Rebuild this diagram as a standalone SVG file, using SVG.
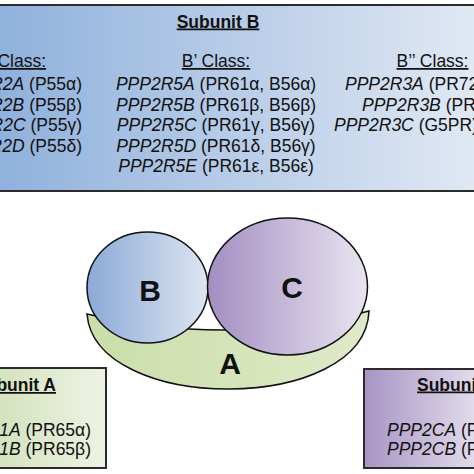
<svg xmlns="http://www.w3.org/2000/svg" width="474" height="474" viewBox="0 0 474 474">
<defs>
<linearGradient id="gTop" x1="0" y1="0" x2="1" y2="0">
<stop offset="0" stop-color="#8eb0dc"/><stop offset="1" stop-color="#e2e9f4"/>
</linearGradient>
<linearGradient id="gA" x1="0" y1="0" x2="1" y2="0">
<stop offset="0" stop-color="#d2e1bb"/><stop offset="1" stop-color="#eef3e4"/>
</linearGradient>
<linearGradient id="gC" x1="0" y1="0" x2="1" y2="0">
<stop offset="0" stop-color="#a794c5"/><stop offset="1" stop-color="#e6e1ee"/>
</linearGradient>
<linearGradient id="gBc" x1="0" y1="0" x2="1" y2="0">
<stop offset="0" stop-color="#8caad6"/><stop offset="1" stop-color="#dde6f2"/>
</linearGradient>
<linearGradient id="gCc" x1="0" y1="0" x2="1" y2="0">
<stop offset="0" stop-color="#a38ec1"/><stop offset="1" stop-color="#e9e5f1"/>
</linearGradient>
<linearGradient id="gAc" x1="0" y1="0" x2="1" y2="0">
<stop offset="0" stop-color="#cbddaa"/><stop offset="1" stop-color="#dfeac8"/>
</linearGradient>
</defs>
<style>
text{font-family:"Liberation Sans",Arial,sans-serif;fill:#111;}
.t{font-size:17.5px;}
.h{font-size:17.5px;font-weight:bold;text-decoration:underline;}
.u{text-decoration:underline;}
.i{font-style:italic;}
.box{stroke:#2b2b2b;stroke-width:2;}
.sh{stroke:#111;stroke-width:1.5;}
.big{font-size:30px;font-weight:bold;text-anchor:middle;}
</style>
<rect width="474" height="474" fill="#ffffff"/>

<g id="subunitB">
<rect class="box" x="-10" y="5" width="494" height="186" fill="url(#gTop)"/>
<text class="h" x="218" y="27.5" text-anchor="middle">Subunit B</text>
<text class="t u" x="46" y="67" text-anchor="end">B Class:</text>
<text class="t" x="82" y="90" text-anchor="end"><tspan class="i">PPP2R2A</tspan> (P55α)</text>
<text class="t" x="82" y="110.5" text-anchor="end"><tspan class="i">PPP2R2B</tspan> (P55β)</text>
<text class="t" x="82" y="131" text-anchor="end"><tspan class="i">PPP2R2C</tspan> (P55γ)</text>
<text class="t" x="82" y="151.5" text-anchor="end"><tspan class="i">PPP2R2D</tspan> (P55δ)</text>
<text class="t u" x="216" y="67" text-anchor="middle">B’ Class:</text>
<text class="t" x="216" y="90" text-anchor="middle"><tspan class="i">PPP2R5A</tspan> (PR61α, B56α)</text>
<text class="t" x="216" y="110.5" text-anchor="middle"><tspan class="i">PPP2R5B</tspan> (PR61β, B56β)</text>
<text class="t" x="216" y="131" text-anchor="middle"><tspan class="i">PPP2R5C</tspan> (PR61γ, B56γ)</text>
<text class="t" x="216" y="151.5" text-anchor="middle"><tspan class="i">PPP2R5D</tspan> (PR61δ, B56γ)</text>
<text class="t" x="216" y="172" text-anchor="middle"><tspan class="i">PPP2R5E</tspan> (PR61ε, B56ε)</text>
<text class="t u" x="432.5" y="67" text-anchor="middle">B’’ Class:</text>
<text class="t" x="345" y="90"><tspan class="i">PPP2R3A</tspan> (PR72, PR130)</text>
<text class="t" x="362" y="110.5"><tspan class="i">PPP2R3B</tspan> (PR70, PR48)</text>
<text class="t" x="334" y="131"><tspan class="i">PPP2R3C</tspan> (G5PR)</text>
</g>

<g id="subunitA">
<rect class="box" x="-10" y="368" width="116" height="100" fill="url(#gA)"/>
<text class="h" x="56" y="391" text-anchor="end">Subunit A</text>
<text class="t" x="91" y="435.5" text-anchor="end"><tspan class="i">PPP2R1A</tspan> (PR65α)</text>
<text class="t" x="91" y="455" text-anchor="end"><tspan class="i">PPP2R1B</tspan> (PR65β)</text>
</g>

<g id="subunitC">
<rect class="box" x="364" y="369" width="120" height="99" fill="url(#gC)"/>
<text class="h" x="417" y="390.5">Subunit C</text>
<text class="t" x="387" y="436"><tspan class="i">PPP2CA</tspan> (PP2Acα)</text>
<text class="t" x="387" y="455"><tspan class="i">PPP2CB</tspan> (PP2Acβ)</text>
</g>

<g id="A">
<path class="sh" fill="url(#gAc)" d="M87 314 C95 414.5 365 414.5 369 311 Q230 347.5 87 314 Z"/>
<text class="big" x="230" y="374">A</text>
</g>
<g id="B">
<ellipse class="sh" cx="147.5" cy="287.5" rx="60.5" ry="55.5" fill="url(#gBc)"/>
<text class="big" x="150" y="300.5">B</text>
</g>
<g id="C">
<ellipse class="sh" cx="287.5" cy="286.5" rx="80" ry="68.5" fill="url(#gCc)"/>
<text class="big" x="292" y="297.5">C</text>
</g>
<g id="connectors"></g>
</svg>
